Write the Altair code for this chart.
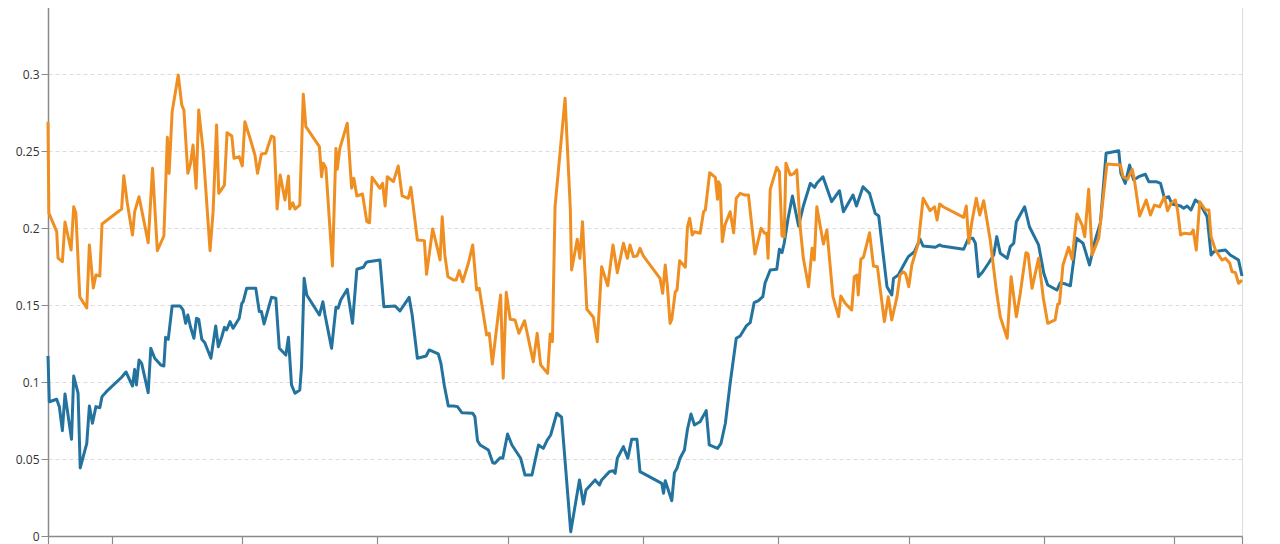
import altair as alt
import pandas as pd

# Day offsets from 2019-03-17 00:00 and values
blue_days = [0.4, 0.7, 2.4, 3.0, 3.7, 4.3, 5.8, 6.3, 7.3, 7.8, 9.3, 9.9, 10.6, 11.4, 12.3, 12.8, 13.8,
    17.3, 18.3, 19.8, 20.3, 20.7, 21.3, 21.9, 23.4, 24.0, 24.9, 26.3, 27.0, 27.4, 28.0, 28.9, 30.7,
    31.4, 32.0, 32.5, 33.1, 33.9, 34.5, 35.0, 35.7, 36.4, 37.8, 38.9, 39.5, 40.3, 40.9, 41.4, 42.2,
    42.9, 44.3, 44.9, 45.2, 46.0, 48.1, 48.9, 49.4, 50.0, 51.7, 52.7, 53.5, 55.0, 55.6, 56.3, 57.1,
    58.2, 58.6, 59.2, 59.8, 62.7, 63.5, 64.0, 65.5, 66.5, 67.0, 67.6, 69.1, 70.3, 71.3, 72.8, 73.4,
    73.9, 76.6, 77.5, 80.1, 81.2, 83.3, 84.0, 85.2, 87.2, 87.9, 90.0, 90.6, 91.4, 92.3, 93.5, 94.4,
    95.4, 97.9, 98.4, 99.0, 99.6, 101.5, 102.5, 103.0, 104.2, 104.8, 105.9, 106.9, 108.9, 109.9,
    111.5, 113.0, 114.1, 115.0, 115.8, 117.2, 118.3, 120.4, 122.4, 123.3, 123.9, 126.0, 127.0, 127.5,
    129.3, 130.1, 130.6, 131.1, 132.5, 133.5, 134.4, 135.6, 136.3, 141.3, 141.7, 142.1, 143.6, 144.2,
    144.8, 145.5, 146.5, 147.2, 148.0, 148.8, 150.1, 151.5, 152.2, 154.1, 154.9, 155.9, 157.0, 158.4,
    159.3, 160.7, 161.6, 162.5, 163.5, 164.5, 165.0, 166.2, 167.7, 168.3, 168.9, 169.4, 170.3, 171.3,
    172.7, 173.8, 175.4, 176.4, 176.9, 178.3, 180.3, 182.1, 183.0, 185.2, 186.0, 187.5, 189.0, 190.3,
    191.1, 193.0, 194.1, 194.5, 195.6, 196.7, 197.9, 199.3, 200.6, 201.3, 204.1, 205.1, 205.6, 210.6,
    211.7, 212.7, 213.3, 214.0, 215.0, 216.3, 217.5, 218.2, 219.0, 220.6, 221.3, 222.1, 222.7, 224.6,
    225.7, 227.8, 229.0, 229.9, 232.0, 232.8, 234.0, 235.1, 236.5, 238.0, 239.5, 240.8, 242.0, 243.3,
    246.2, 246.7, 247.7, 248.7, 249.6, 250.8, 252.3, 253.1, 254.8, 255.8, 256.7, 257.7, 258.4, 260.4,
    261.1, 261.9, 262.8, 263.8, 264.8, 266.5, 267.4, 268.0, 270.7, 271.8, 273.7, 274.5]
blue_vals = [0.1169, 0.0872, 0.0888, 0.084, 0.0684, 0.0922, 0.0628, 0.1039, 0.0927, 0.0442, 0.0602,
    0.0844, 0.0732, 0.084, 0.0833, 0.0905, 0.0937, 0.1031, 0.1065, 0.0974, 0.1082, 0.0981, 0.1143,
    0.1121, 0.0931, 0.1219, 0.1154, 0.111, 0.1104, 0.129, 0.1277, 0.1494, 0.1494, 0.1468, 0.1381,
    0.1435, 0.1359, 0.1284, 0.1414, 0.1407, 0.1277, 0.1255, 0.1154, 0.1364, 0.1229, 0.1294, 0.1355,
    0.1338, 0.1392, 0.1349, 0.1414, 0.1511, 0.1521, 0.1608, 0.1608, 0.1457, 0.1457, 0.1377, 0.155,
    0.1544, 0.1219, 0.1175, 0.129, 0.0981, 0.0927, 0.0948, 0.1099, 0.1673, 0.1565, 0.1435, 0.1521,
    0.1435, 0.1219, 0.1485, 0.1479, 0.1532, 0.1602, 0.1381, 0.1732, 0.1745, 0.1775, 0.1781, 0.1792,
    0.1489, 0.1494, 0.1461, 0.155, 0.1435, 0.1154, 0.1169, 0.1208, 0.1182, 0.1121, 0.0974, 0.0844,
    0.0844, 0.084, 0.0801, 0.0797, 0.0775, 0.0619, 0.0591, 0.0558, 0.0476, 0.0472, 0.0508, 0.0505,
    0.0662, 0.0591, 0.0505, 0.0396, 0.0396, 0.0591, 0.0569, 0.0623, 0.0656, 0.0797, 0.0771, 0.0028,
    0.0364, 0.0208, 0.0299, 0.0364, 0.0331, 0.0364, 0.0418, 0.0424, 0.0407, 0.0505, 0.058, 0.0505,
    0.0628, 0.0628, 0.0418, 0.0342, 0.0277, 0.0359, 0.0229, 0.0411, 0.044, 0.0505, 0.0558, 0.0693,
    0.0792, 0.0721, 0.0742, 0.0814, 0.0591, 0.0569, 0.0602, 0.0732, 0.0992, 0.1284, 0.1299, 0.1364,
    0.1385, 0.1515, 0.1528, 0.1554, 0.1641, 0.1727, 0.1732, 0.1862, 0.184, 0.1901, 0.2063, 0.2208,
    0.2013, 0.2143, 0.229, 0.2264, 0.229, 0.2333, 0.2171, 0.2242, 0.2106, 0.2214, 0.2143, 0.2268,
    0.2225, 0.2095, 0.2078, 0.1619, 0.1565, 0.1673, 0.1695, 0.1753, 0.1814, 0.1846, 0.1927, 0.1883,
    0.1875, 0.189, 0.1883, 0.1862, 0.1933, 0.1933, 0.1901, 0.1684, 0.1716, 0.1771, 0.1825, 0.1944,
    0.1836, 0.1803, 0.1879, 0.1901, 0.2041, 0.2138, 0.2008, 0.189, 0.1706, 0.163, 0.1597, 0.1645,
    0.1636, 0.1625, 0.1933, 0.1901, 0.176, 0.1922, 0.2034, 0.2485, 0.2502, 0.2355, 0.229, 0.2409,
    0.2312, 0.2333, 0.2349, 0.2301, 0.2301, 0.229, 0.2193, 0.2203, 0.2156, 0.2143, 0.2128, 0.2143,
    0.2117, 0.2182, 0.216, 0.2073, 0.1825, 0.1846, 0.1857, 0.1825, 0.1792, 0.1688]

orange_days = [0.4, 0.6, 2.4, 2.7, 3.7, 4.3, 5.7, 6.3, 6.8, 7.7, 9.3, 9.9, 10.8, 11.4, 12.3, 12.8,
    17.3, 17.8, 18.6, 19.8, 20.3, 21.3, 23.4, 24.4, 25.5, 27.0, 27.8, 28.2, 28.9, 30.3, 31.1, 31.6,
    32.5, 33.1, 33.7, 34.4, 35.0, 36.0, 37.6, 38.3, 39.1, 39.6, 40.9, 41.5, 42.6, 43.1, 44.3, 45.0,
    45.6, 46.9, 47.9, 48.5, 49.4, 50.4, 51.7, 52.3, 53.0, 53.7, 54.8, 55.6, 55.9, 56.6, 57.1, 58.2,
    59.0, 59.6, 62.7, 63.2, 63.6, 64.2, 65.7, 66.5, 66.8, 67.4, 69.1, 70.1, 70.6, 71.3, 72.6, 73.6,
    74.2, 74.8, 76.6, 77.2, 77.8, 78.3, 79.7, 80.8, 81.7, 83.1, 83.7, 85.2, 86.8, 87.3, 88.7, 89.8,
    90.4, 90.9, 91.5, 92.2, 93.5, 94.1, 94.8, 95.6, 96.9, 97.9, 98.8, 99.4, 101.1, 101.7, 102.4,
    104.3, 104.9, 105.6, 106.5, 107.6, 108.5, 109.8, 111.8, 112.7, 113.5, 115.1, 115.7, 116.2, 116.8,
    119.1, 120.3, 120.6, 121.9, 122.5, 123.1, 124.1, 125.6, 126.5, 127.5, 128.9, 130.1, 131.1, 132.5,
    133.4, 134.0, 134.8, 135.6, 136.3, 137.1, 140.9, 141.5, 142.1, 142.6, 143.2, 143.6, 144.4, 144.8,
    145.4, 146.7, 147.2, 147.7, 148.3, 148.8, 150.1, 150.9, 151.3, 152.3, 153.6, 154.1, 154.3, 154.7,
    155.2, 155.8, 157.0, 157.8, 158.4, 159.3, 160.4, 161.2, 162.7, 164.1, 164.9, 165.4, 165.7, 166.2,
    167.7, 168.3, 168.9, 169.4, 169.8, 170.8, 171.5, 172.3, 173.1, 173.8, 175.0, 175.8, 176.3, 176.9,
    178.4, 179.2, 180.6, 181.9, 182.4, 183.4, 184.5, 184.9, 185.5, 186.1, 186.4, 187.0, 187.6, 189.0,
    189.9, 190.8, 192.4, 193.3, 194.1, 195.3, 196.0, 196.8, 197.3, 198.0, 198.7, 200.2, 201.3, 202.9,
    203.9, 204.5, 205.1, 205.9, 210.6, 211.2, 211.8, 212.5, 213.5, 214.3, 215.2, 216.7, 218.1, 219.0,
    220.6, 221.5, 222.7, 223.6, 224.9, 225.4, 226.3, 227.8, 228.9, 229.9, 231.6, 232.2, 232.6, 233.4,
    234.7, 235.5, 236.6, 237.8, 238.4, 239.3, 240.1, 241.6, 242.4, 243.5, 246.6, 247.2, 248.2, 249.3,
    249.8, 251.0, 252.5, 253.5, 254.4, 255.6, 256.7, 257.4, 258.2, 259.2, 259.7, 260.4, 261.3, 262.7,
    263.3, 264.0, 264.8, 266.1, 266.9, 267.4, 268.4, 269.9, 270.7, 271.7, 272.2, 273.0, 273.7, 274.5]
orange_vals = [0.269, 0.2097, 0.1976, 0.1805, 0.1781, 0.2039, 0.1857, 0.2138, 0.2097, 0.1552, 0.1481,
    0.189, 0.161, 0.1695, 0.1688, 0.2026, 0.2123, 0.234, 0.2162, 0.1955, 0.2106, 0.2203, 0.1905,
    0.2388, 0.1853, 0.1948, 0.2589, 0.2355, 0.2755, 0.2994, 0.2799, 0.2766, 0.2355, 0.2416, 0.2539,
    0.2258, 0.2766, 0.2506, 0.1853, 0.2106, 0.2669, 0.2225, 0.2279, 0.2619, 0.2597, 0.2453, 0.2463,
    0.2403, 0.269, 0.2571, 0.2474, 0.2355, 0.2481, 0.2485, 0.2597, 0.2589, 0.2123, 0.2344, 0.2182,
    0.2338, 0.2123, 0.2164, 0.2123, 0.2149, 0.2868, 0.2658, 0.2528, 0.2333, 0.242, 0.2388, 0.1753,
    0.2517, 0.2381, 0.2517, 0.268, 0.2258, 0.2323, 0.2208, 0.2221, 0.2041, 0.2034, 0.2329, 0.2258,
    0.229, 0.2143, 0.2333, 0.2301, 0.2403, 0.2208, 0.2193, 0.2264, 0.1922, 0.1918, 0.1699, 0.1994,
    0.1868, 0.1792, 0.2073, 0.1825, 0.1684, 0.1662, 0.1662, 0.1723, 0.1651, 0.1771, 0.189, 0.1597,
    0.1608, 0.1305, 0.1316, 0.1117, 0.1565, 0.1024, 0.1582, 0.1407, 0.1403, 0.1316, 0.1398, 0.1132,
    0.1316, 0.111, 0.1056, 0.1312, 0.1262, 0.2138, 0.2842, 0.2128, 0.1727, 0.1927, 0.1803, 0.2041,
    0.1472, 0.142, 0.1262, 0.1749, 0.1625, 0.189, 0.171, 0.1901, 0.1803, 0.189, 0.1814, 0.1818,
    0.1868, 0.1818, 0.1673, 0.1576, 0.176, 0.1619, 0.1381, 0.1407, 0.1586, 0.1597, 0.1788, 0.1745,
    0.2008, 0.2063, 0.1955, 0.1976, 0.1966, 0.2106, 0.2117, 0.2359, 0.2329, 0.2186, 0.2301, 0.2279,
    0.1911, 0.2019, 0.2106, 0.1969, 0.2193, 0.2225, 0.2214, 0.2214, 0.1831, 0.1998, 0.1966, 0.1966,
    0.1803, 0.2251, 0.2394, 0.2366, 0.1948, 0.1943, 0.242, 0.2344, 0.2351, 0.2377, 0.1998, 0.1803,
    0.1619, 0.1868, 0.1792, 0.2138, 0.1896, 0.1987, 0.1554, 0.1424, 0.1558, 0.1511, 0.1479, 0.1468,
    0.1684, 0.1695, 0.1565, 0.1797, 0.181, 0.1969, 0.1753, 0.1749, 0.1392, 0.1554, 0.1403, 0.1554,
    0.1695, 0.1716, 0.1701, 0.1619, 0.176, 0.1901, 0.2193, 0.2112, 0.2138, 0.2052, 0.2156, 0.2138,
    0.2069, 0.2143, 0.1901, 0.2041, 0.2193, 0.2084, 0.2177, 0.1922, 0.1597, 0.1424, 0.1284, 0.1684,
    0.1424, 0.1576, 0.184, 0.1831, 0.1608, 0.1803, 0.1544, 0.1381, 0.1403, 0.1506, 0.1511, 0.176,
    0.1875, 0.1797, 0.2091, 0.2019, 0.1944, 0.2251, 0.1825, 0.1933, 0.2138, 0.2416, 0.2409, 0.2333,
    0.2316, 0.2381, 0.2312, 0.2078, 0.2182, 0.2084, 0.2149, 0.2138, 0.2203, 0.2112, 0.216, 0.2182,
    0.2117, 0.1955, 0.1966, 0.1961, 0.1987, 0.1857, 0.2171, 0.2117, 0.2117, 0.1944, 0.1857, 0.1792,
    0.1803, 0.1771, 0.1716, 0.171, 0.1641, 0.1662]

y_ticks = [0, 0.05, 0.1, 0.15, 0.2, 0.25, 0.3, 0.35]

START = pd.Timestamp("2019-03-17 00:00:00")


def to_dates(days):
    return [(START + pd.to_timedelta(d, unit="D")).strftime("%Y-%m-%dT%H:%M:%S") for d in days]


blue_df = pd.DataFrame({"date": to_dates(blue_days), "value": blue_vals, "series": "A"})
orange_df = pd.DataFrame({"date": to_dates(orange_days), "value": orange_vals, "series": "B"})
df = pd.concat([blue_df, orange_df], ignore_index=True)

x_ticks = [alt.DateTime(year=2019, month=3, date=17, hours=9, minutes=36)] + [
    alt.DateTime(year=2019, month=m, date=1) for m in range(4, 13)
] + [alt.DateTime(year=2019, month=12, date=16, hours=12)]

x_enc = alt.X(
    "date:T",
    title=None,
    axis=alt.Axis(
        values=x_ticks,
        labels=False,
        grid=False,
        tickSize=8,
        tickColor="#8a8a8a",
        domainColor="#8a8a8a",
        domainWidth=1.5,
        tickWidth=1.2,
    ),
)
y_enc = alt.Y(
    "value:Q",
    title=None,
    scale=alt.Scale(domain=[0, 0.35], nice=False, zero=True),
    axis=alt.Axis(
        values=y_ticks,
        format="~g",
        tickSize=7,
        labelPadding=2,
        tickColor="#8a8a8a",
        domainColor="#8a8a8a",
        domainWidth=1.5,
        labelColor="#333333",
        labelFont="Open Sans",
        labelFontSize=12,
        grid=True,
        gridColor="#dcdcdc",
        gridDash=[4, 3],
        gridWidth=1,
    ),
)

blue = alt.Chart(df).transform_filter(alt.datum.series == "A").mark_line(
    color="#23739e", strokeWidth=3, strokeJoin="round"
).encode(x=x_enc, y=y_enc, order="date:T")

orange = alt.Chart(df).transform_filter(alt.datum.series == "B").mark_line(
    color="#ef8f22", strokeWidth=3, strokeJoin="round"
).encode(x=x_enc, y=y_enc, order="date:T")

chart = alt.layer(blue, orange).properties(
    width=1194,
    height=539,
    autosize=alt.AutoSizeParams(type="none"),
    padding={"left": 40, "top": -11, "right": 30, "bottom": 20},
).configure_view(stroke=None).configure(background="white")

chart.save("out.html", embed_options={"renderer": "svg", "actions": False})
